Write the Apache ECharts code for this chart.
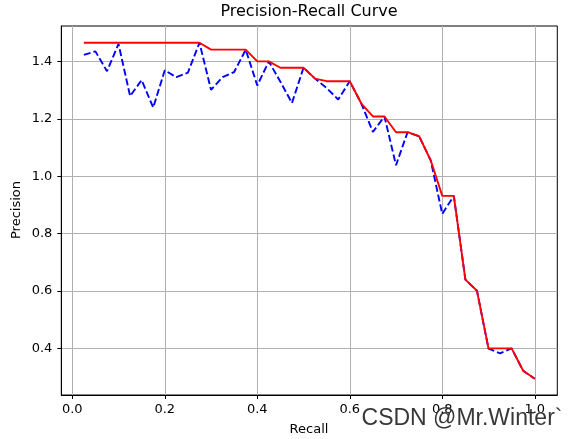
<!DOCTYPE html>
<html>
<head>
<meta charset="utf-8">
<script src="https://cdn.jsdelivr.net/npm/echarts@6/dist/echarts.min.js"></script>
<style>
  html, body { margin: 0; padding: 0; background: #fff; }
  #chart { width: 573px; height: 439px; }
</style>
</head>
<body>
<div id="chart"></div>
<script>
// Recall values (x)
const recall = [0.025, 0.05, 0.075, 0.1, 0.125, 0.15, 0.175, 0.2, 0.225, 0.25,
  0.275, 0.3, 0.325, 0.35, 0.375, 0.4, 0.425, 0.45, 0.475, 0.5,
  0.525, 0.55, 0.575, 0.6, 0.625, 0.65, 0.675, 0.7, 0.725, 0.75,
  0.775, 0.8, 0.825, 0.85, 0.875, 0.9, 0.925, 0.95, 0.975, 1.0];
// Raw precision (blue dashed)
const precision = [1.424, 1.436, 1.367, 1.462, 1.280, 1.336, 1.240, 1.370, 1.346, 1.362,
  1.466, 1.302, 1.346, 1.364, 1.442, 1.317, 1.401, 1.330, 1.256, 1.379,
  1.341, 1.308, 1.268, 1.332, 1.254, 1.155, 1.209, 1.039, 1.154, 1.140,
  1.056, 0.869, 0.932, 0.640, 0.601, 0.399, 0.383, 0.400, 0.322, 0.294];
// Interpolated precision (red solid)
const interpPrecision = [1.466, 1.466, 1.466, 1.466, 1.466, 1.466, 1.466, 1.466, 1.466, 1.466,
  1.466, 1.442, 1.442, 1.442, 1.442, 1.401, 1.401, 1.379, 1.379, 1.379,
  1.341, 1.332, 1.332, 1.332, 1.254, 1.209, 1.209, 1.154, 1.154, 1.140,
  1.056, 0.932, 0.932, 0.640, 0.601, 0.400, 0.400, 0.400, 0.322, 0.294];
// Tick labels
const xTicks = [0.0, 0.2, 0.4, 0.6, 0.8, 1.0];
const yTicks = [0.4, 0.6, 0.8, 1.0, 1.2, 1.4];

const FONT = 'DejaVu Sans';
const chart = echarts.init(document.getElementById('chart'), null, { renderer: 'canvas' });

const pairs = (xs, ys) => xs.map((x, i) => [x, ys[i]]);

chart.setOption({
  animation: false,
  backgroundColor: '#fff',
  grid: {
    left: 61.3, right: 15.7, top: 26, bottom: 44,
    show: true, borderColor: '#000', borderWidth: 1, backgroundColor: 'transparent'
  },
  xAxis: {
    type: 'value',
    min: -0.02375, max: 1.04875,
    axisLine: { show: true, onZero: false, lineStyle: { color: '#000', width: 1 } },
    axisTick: { show: true, inside: false, length: 4, customValues: xTicks, lineStyle: { color: '#000' } },
    axisLabel: {
      customValues: xTicks, margin: 8, color: '#000', fontSize: 13, fontFamily: FONT,
      formatter: v => v.toFixed(1)
    },
    splitLine: { show: true, lineStyle: { color: '#b0b0b0', width: 1 } }
  },
  yAxis: {
    type: 'value',
    min: 0.2375, max: 1.5245,
    axisLine: { show: true, onZero: false, lineStyle: { color: '#000', width: 1 } },
    axisTick: { show: true, inside: false, length: 4, customValues: yTicks, lineStyle: { color: '#000' } },
    axisLabel: {
      customValues: yTicks, margin: 9, color: '#000', fontSize: 13, fontFamily: FONT,
      formatter: v => v.toFixed(1)
    },
    splitLine: { show: true, lineStyle: { color: '#b0b0b0', width: 1 } }
  },
  series: [
    {
      type: 'line', data: pairs(recall, precision), symbol: 'none',
      lineStyle: { color: '#0000ff', width: 1.9, type: [7, 3] }, z: 2
    },
    {
      type: 'line', data: pairs(recall, interpPrecision), symbol: 'none',
      lineStyle: { color: '#ff0000', width: 1.9, type: 'solid' }, z: 3
    }
  ],
  graphic: [
    { type: 'text', x: 309, y: 12, z: 100,
      style: { text: 'Precision-Recall Curve', fontSize: 16, fontFamily: FONT, fill: '#000', align: 'center', verticalAlign: 'middle' } },
    { type: 'text', x: 309, y: 430, z: 100,
      style: { text: 'Recall', fontSize: 13, fontFamily: FONT, fill: '#000', align: 'center', verticalAlign: 'middle' } },
    { type: 'text', x: 17, y: 210, rotation: Math.PI / 2, z: 100,
      style: { text: 'Precision', fontSize: 13, fontFamily: FONT, fill: '#000', align: 'center', verticalAlign: 'middle' } },
    { type: 'text', x: 462, y: 419, z: 200,
      style: { text: 'CSDN @Mr.Winter`', fontSize: 23, fontFamily: 'Liberation Sans', fill: '#383838', align: 'center', verticalAlign: 'middle' } }
  ]
});
</script>
</body>
</html>
